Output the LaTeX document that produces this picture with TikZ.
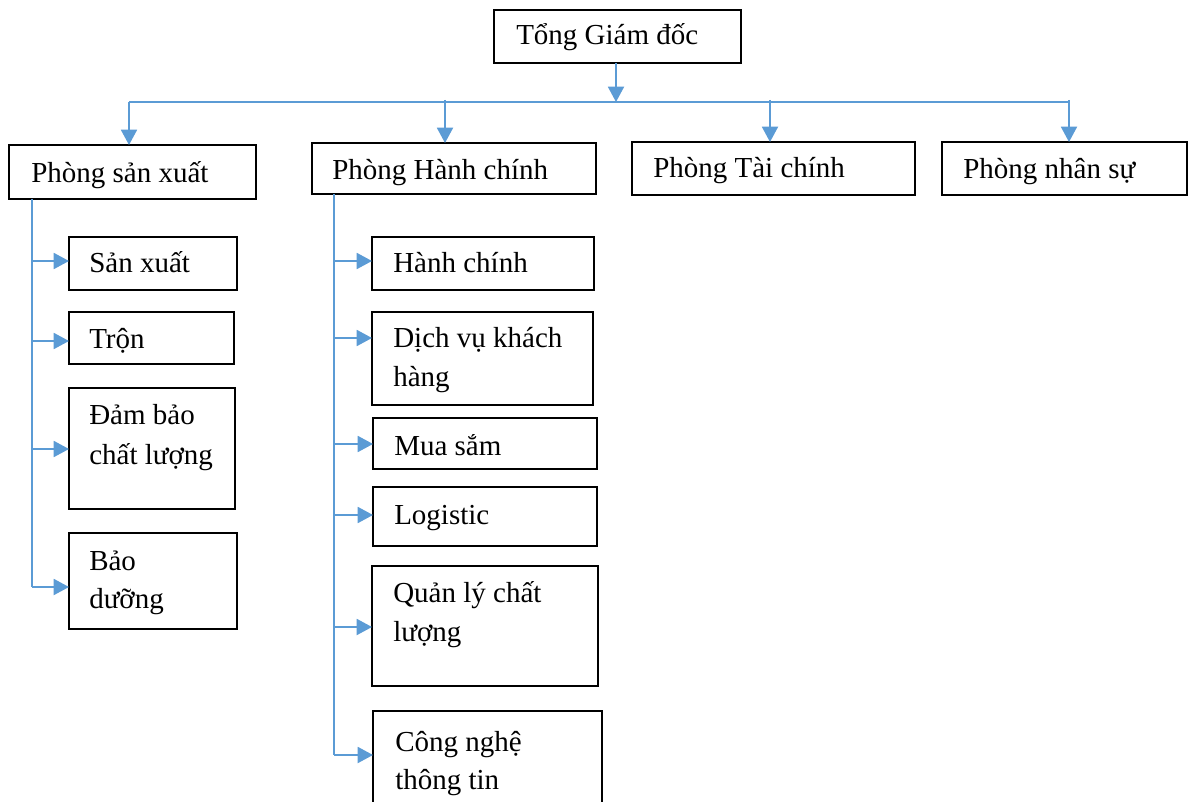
\documentclass[tikz,border=0pt]{standalone}
\usepackage{fontspec}
\setmainfont{Liberation Serif}
\usetikzlibrary{arrows.meta,calc}
\definecolor{linkblue}{HTML}{5B9BD5}
\newcommand\mkbox[5]{\node[box, minimum width={(#4-#2)*0.75pt}, minimum height={(#5-#3)*0.75pt}] (#1) at (#2,#3) {};}
\begin{document}
\begin{tikzpicture}[x=0.75pt,y=-0.75pt,
  box/.style={draw=black, line width=1pt, anchor=north west, inner sep=0pt, outer sep=0pt},
  lbl/.style={anchor=base west, inner sep=0pt, font=\fontsize{21.75pt}{29pt}\selectfont},
  conn/.style={draw=linkblue, line width=1.4pt},
  arrow/.style={conn, -{Triangle[length=11.5pt,width=12pt]}}]
\useasboundingbox (0,0) rectangle (1189,802);
\clip (0,0) rectangle (1189,802);
\fill[white] (0,0) rectangle (1189,802);
% boxes
\mkbox{top}{494}{10}{741}{63}
\mkbox{psx}{9}{145}{256}{199}
\mkbox{phc}{312}{143}{596}{194}
\mkbox{ptc}{632}{142}{915}{195}
\mkbox{pns}{942}{142}{1187}{195}
\mkbox{sx}{69}{237}{237}{290}
\mkbox{tron}{69}{312}{234}{364}
\mkbox{dbcl}{69}{388}{235}{509}
\mkbox{bd}{69}{533}{237}{629}
\mkbox{hc}{372}{237}{594}{290}
\mkbox{dv}{372}{312}{593}{405}
\mkbox{ms}{373}{418}{597}{469}
\mkbox{lg}{373}{487}{597}{546}
\mkbox{ql}{372}{566}{598}{686}
\mkbox{cn}{373}{711}{602}{820}
% labels
\node[lbl] (ttop) at (516,45) {Tổng Giám đốc};
\node[lbl] (tpsx) at (31,183) {Phòng sản xuất};
\node[lbl] (tphc) at (332,180) {Phòng Hành chính};
\node[lbl] (tptc) at (653,178) {Phòng Tài chính};
\node[lbl] (tpns) at (963,179) {Phòng nhân sự};
\node[lbl] (tsx) at (89,273) {Sản xuất};
\node[lbl] (ttron) at (89,349) {Trộn};
\node[lbl] (tdb1) at (89,424) {Đảm bảo};
\node[lbl] (tdb2) at (89,464) {chất lượng};
\node[lbl] (tbd1) at (89,570) {Bảo};
\node[lbl] (tbd2) at (89,608) {dưỡng};
\node[lbl] (thc) at (393,273) {Hành chính};
\node[lbl] (tdv1) at (393,348) {Dịch vụ khách};
\node[lbl] (tdv2) at (393,387) {hàng};
\node[lbl] (tms) at (394,455) {Mua sắm};
\node[lbl] (tlg) at (394,524) {Logistic};
\node[lbl] (tql1) at (393,602) {Quản lý chất};
\node[lbl] (tql2) at (393,641) {lượng};
\node[lbl] (tcn1) at (395,751) {Công nghệ};
\node[lbl] (tcn2) at (395,789) {thông tin};
% bus
\coordinate (busc) at (616,102);
\coordinate (b1) at (129,102);
\coordinate (b2) at (445,100);
\coordinate (b3) at (770,100);
\coordinate (b4) at (1069,100);
\draw[arrow] (top.south -| busc) -- (busc);
\draw[conn] (b1) -- (b4 |- b1);
\draw[arrow] (b1) -- (b1 |- psx.north);
\draw[arrow] (b2) -- (b2 |- phc.north);
\draw[arrow] (b3) -- (b3 |- ptc.north);
\draw[arrow] (b4) -- (b4 |- pns.north);
% left spine
\coordinate (l1) at (32,261);
\coordinate (l2) at (32,341);
\coordinate (l3) at (32,449);
\coordinate (l4) at (32,587);
\draw[conn] (l1 |- psx.south) -- (l4);
\draw[arrow] (l1) -- (l1 -| sx.west);
\draw[arrow] (l2) -- (l2 -| tron.west);
\draw[arrow] (l3) -- (l3 -| dbcl.west);
\draw[arrow] (l4) -- (l4 -| bd.west);
% middle spine
\coordinate (m1) at (334,261);
\coordinate (m2) at (334,338);
\coordinate (m3) at (334,444);
\coordinate (m4) at (334,515);
\coordinate (m5) at (334,627);
\coordinate (m6) at (334,755);
\draw[conn] (m1 |- phc.south) -- (m6);
\draw[arrow] (m1) -- (m1 -| hc.west);
\draw[arrow] (m2) -- (m2 -| dv.west);
\draw[arrow] (m3) -- (m3 -| ms.west);
\draw[arrow] (m4) -- (m4 -| lg.west);
\draw[arrow] (m5) -- (m5 -| ql.west);
\draw[arrow] (m6) -- (m6 -| cn.west);
\end{tikzpicture}
\end{document}
